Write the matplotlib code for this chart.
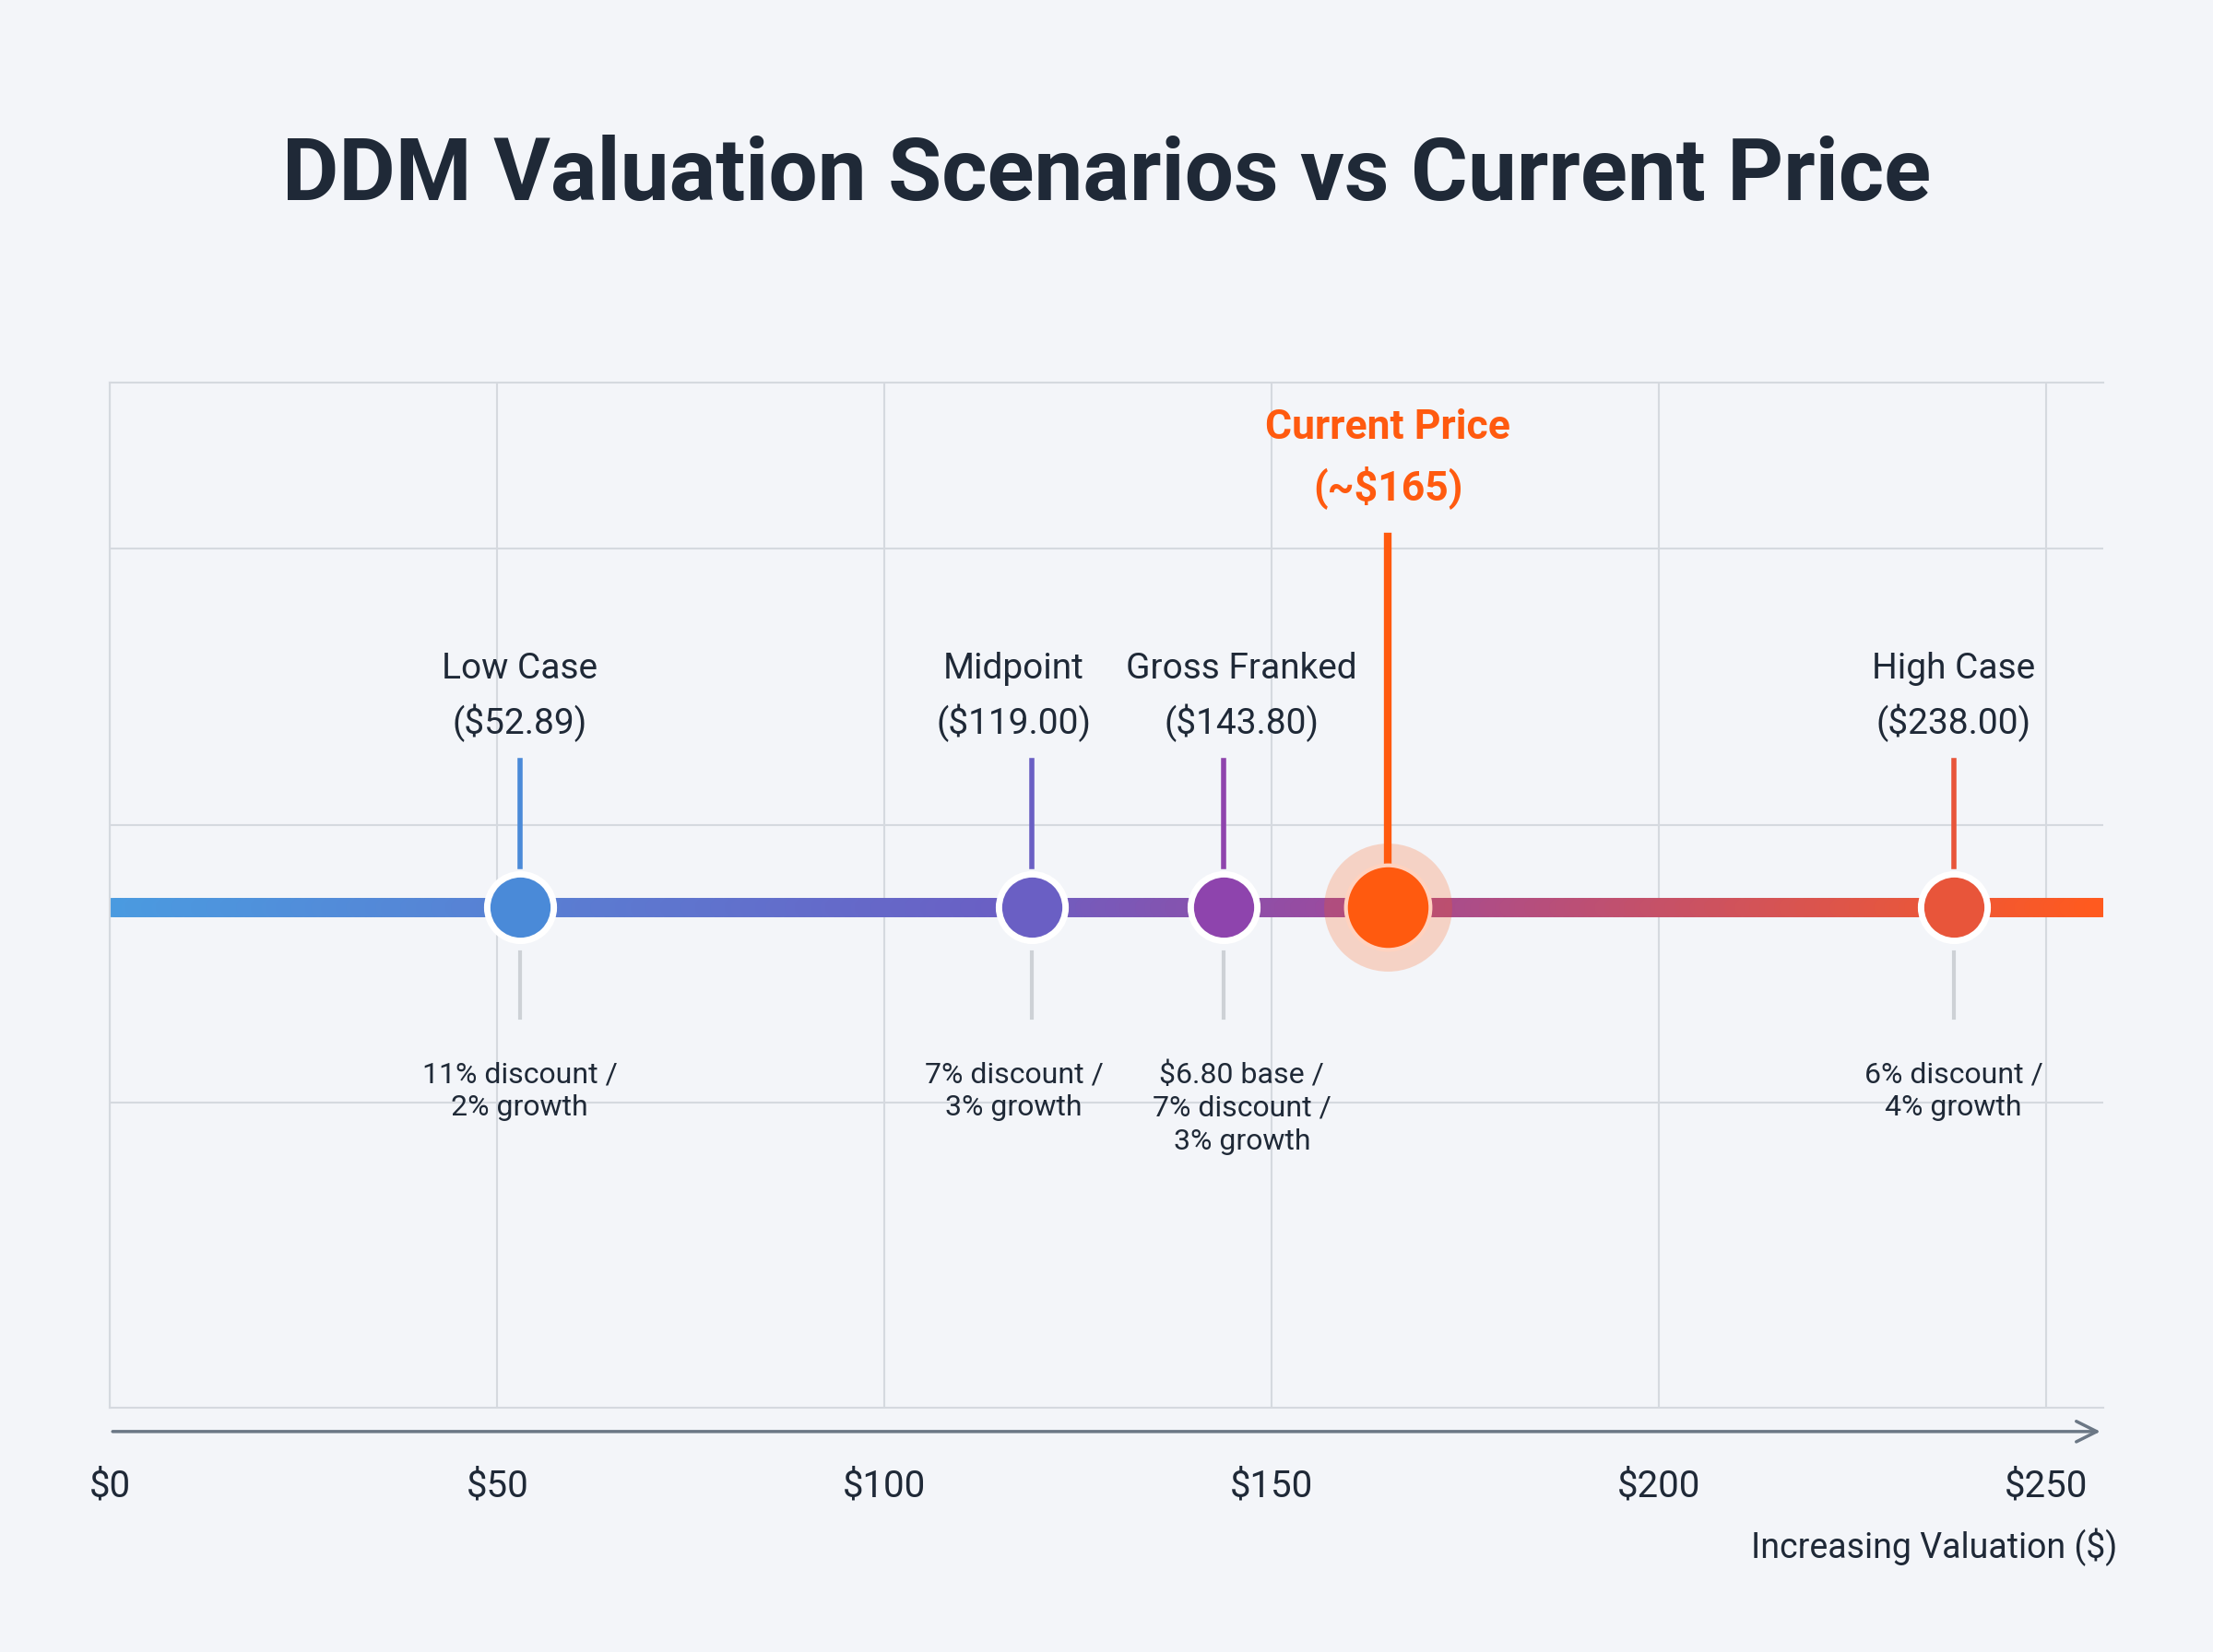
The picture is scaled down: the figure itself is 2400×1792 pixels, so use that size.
import matplotlib
matplotlib.use("Agg")
import matplotlib.pyplot as plt
import numpy as np
from matplotlib.collections import LineCollection
from matplotlib.colors import LinearSegmentedColormap

plt.rcParams['font.family'] = ['Roboto', 'DejaVu Sans']

names = ["Low Case", "Midpoint", "Gross Franked", "High Case"]
values = [52.89, 119.00, 143.80, 238.00]
notes = ["11% discount /\n2% growth", "7% discount /\n3% growth",
         "$6.80 base /\n7% discount /\n3% growth", "6% discount /\n4% growth"]
pt_colors = ["#4A8AD8", "#6A5FC4", "#8E44AD", "#E8553A"]
label_shift = [0, -14, 14, 0]  # text offsets in points
current_price = 165
ticks = [0, 50, 100, 150, 200, 250]
tick_labels = ["$0", "$50", "$100", "$150", "$200", "$250"]

bg = "#F3F5F9"
dark = "#1F2937"
fig = plt.figure(figsize=(24, 17.92), dpi=100, facecolor=bg)
ax = fig.add_axes([78/1568, 1-998/1171, (1490-78)/1568, (998-271)/1171])
ax.set_facecolor(bg)
xmax = 250 * (1490-78)/(1450-78)
ax.set_xlim(0, xmax); ax.set_ylim(0, 1)
for t in ticks:
    ax.axvline(t, color="#D5D9DF", lw=1.5, zorder=0)
for y in [0.298, 0.568, 0.838]:
    ax.axhline(y, color="#D5D9DF", lw=1.5, zorder=0)
for s in ax.spines.values():
    s.set_color("#D5D9DF"); s.set_linewidth(1.5)
ax.spines["right"].set_visible(False)
ax.set_xticks([]); ax.set_yticks([])

ly = 0.488
cmap = LinearSegmentedColormap.from_list("g", [(0, "#4A9BE0"), (0.45, "#6A5FC4"), (0.62, "#9B4A9E"), (1, "#FF5A1F")])
xs = np.linspace(0, xmax, 400)
segs = [[(xs[i], ly), (xs[i+1], ly)] for i in range(len(xs)-1)]
lc = LineCollection(segs, colors=cmap(np.linspace(0, 1, len(segs))), linewidths=15, capstyle="round", zorder=2)
ax.add_collection(lc)

def lab(x, y, s, dx, **kw):
    ax.annotate(s, (x, y), xytext=(dx, 0), textcoords="offset points", ha="center", **kw)

for n, v, note, c, dx in zip(names, values, notes, pt_colors, label_shift):
    ax.plot([v, v], [0.528, 0.631], color=c, lw=4, zorder=3)
    ax.plot([v, v], [0.380, 0.444], color="#CDD1D6", lw=3, zorder=3)
    ax.plot(v, ly, "o", ms=52, color=c, mec="white", mew=5, zorder=5)
    lab(v, 0.721, n, dx, va="center", fontsize=28, color=dark)
    lab(v, 0.668, f"(${v:.2f})", dx, va="center", fontsize=28, color=dark)
    lab(v, 0.338, note, dx, va="top", fontsize=23, color=dark, linespacing=1.3)

oc = "#FF5A0F"
ax.plot([current_price, current_price], [0.528, 0.85], color=oc, lw=6, zorder=3)
ax.plot(current_price, ly, "o", ms=100, color=oc, alpha=0.22, mew=0, zorder=4)
ax.plot(current_price, ly, "o", ms=66, color=oc, mec="#FFD2BF", mew=3, zorder=5)
ax.text(current_price, 0.956, "Current Price", ha="center", va="center", fontsize=32, color=oc, fontweight="bold")
ax.text(current_price, 0.898, f"(~${current_price})", ha="center", va="center", fontsize=32, color=oc, fontweight="bold")

ax.annotate("", xy=(xmax, -0.023), xytext=(0, -0.023), xycoords="data", annotation_clip=False,
            arrowprops=dict(arrowstyle="->", color="#6B7785", lw=2.5, mutation_scale=40))
for t, l in zip(ticks, tick_labels):
    ax.text(t, -0.076, l, ha="center", va="center", fontsize=29, color=dark, clip_on=False)
fig.text(1500/1568, 1-1097/1171, "Increasing Valuation ($)", ha="right", va="center", fontsize=27, color=dark)
fig.text(0.5, 1-125/1171, "DDM Valuation Scenarios vs Current Price", ha="center", va="center",
         fontsize=68, fontweight="bold", color=dark)
fig.savefig("out.png", dpi=100, facecolor=bg)
